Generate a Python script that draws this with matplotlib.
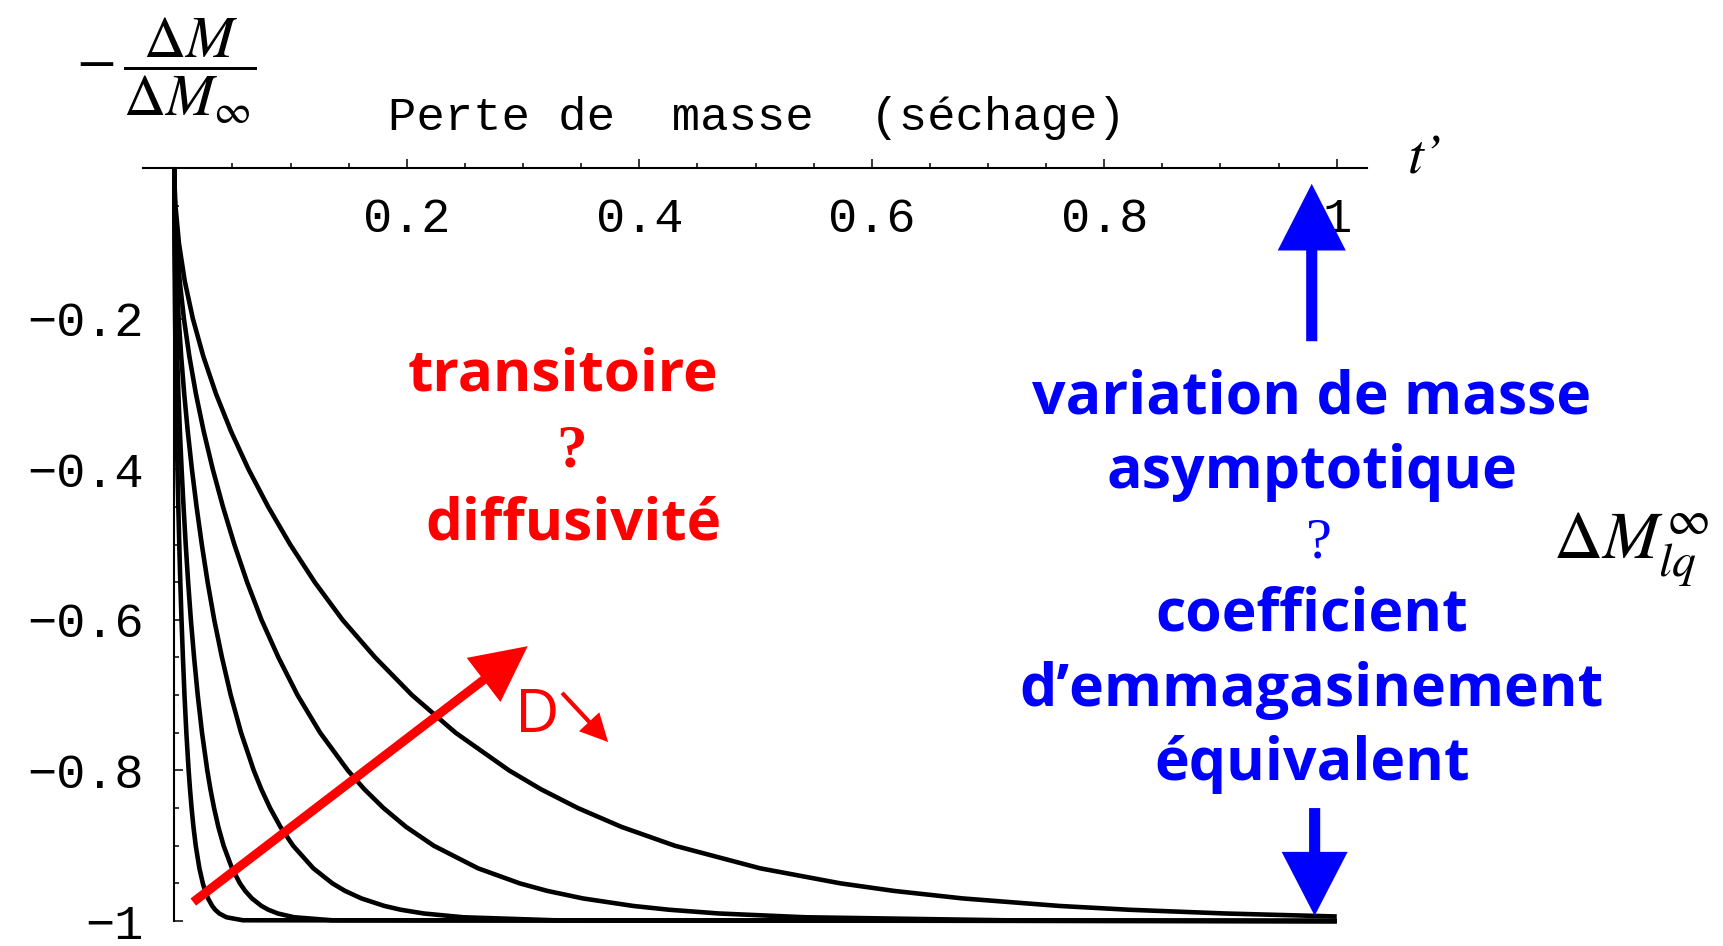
import matplotlib.pyplot as plt
from matplotlib.patches import FancyArrowPatch
from matplotlib.ticker import FixedLocator

# relative mass loss levels
levels = [0, 0.02, 0.05, 0.1, 0.15, 0.2, 0.25, 0.3, 0.35, 0.4, 0.45, 0.5,
          0.55, 0.6, 0.65, 0.7, 0.75, 0.8, 0.825, 0.85, 0.875, 0.9, 0.93,
          0.95, 0.96, 0.97, 0.98, 0.985, 0.99, 0.995, 0.999]

# t' at which each curve reaches the levels above (largest D first)
t_a = [0, 0.0000068, 0.0000426, 0.000171, 0.000384, 0.000683, 0.001068,
       0.001537, 0.002093, 0.002733, 0.00346, 0.00427, 0.00517, 0.0062,
       0.0074, 0.00876, 0.01037, 0.01233, 0.01351, 0.01487, 0.01647,
       0.01844, 0.02158, 0.02455, 0.02651, 0.02905, 0.03262, 0.03516,
       0.03873, 0.04484, 0.05902]
t_b = [0, 0.0000157, 0.000098, 0.000393, 0.000884, 0.00157, 0.002456,
       0.003535, 0.004814, 0.006285, 0.007958, 0.00982, 0.0119, 0.01425,
       0.01702, 0.02015, 0.02384, 0.02837, 0.03107, 0.0342, 0.03789,
       0.04242, 0.04964, 0.05646, 0.06098, 0.06681, 0.07503, 0.08086,
       0.08908, 0.1031, 0.1358]
t_c = [0, 0.0000378, 0.000236, 0.000947, 0.00213, 0.00378, 0.00592,
       0.00852, 0.0116, 0.01514, 0.01917, 0.02366, 0.02867, 0.03434,
       0.04101, 0.04854, 0.05745, 0.06835, 0.07487, 0.0824, 0.0913,
       0.1022, 0.1196, 0.1360, 0.1469, 0.161, 0.1808, 0.1948, 0.2147,
       0.2485, 0.3271]
t_d = [0, 0.0000826, 0.000516, 0.00207, 0.00465, 0.00826, 0.01293, 0.0186,
       0.02534, 0.03308, 0.04188, 0.05168, 0.06263, 0.075, 0.08958, 0.106,
       0.1255, 0.1493, 0.1635, 0.18, 0.1994, 0.2232, 0.2613, 0.2972,
       0.3209, 0.3516, 0.3949, 0.4256, 0.4688, 0.5428, 0.7145]
t_e = [0, 0.000159, 0.000995, 0.00399, 0.00897, 0.01594, 0.02493, 0.03589,
       0.04887, 0.06381, 0.08079, 0.0997, 0.1208, 0.1447, 0.1728, 0.2045,
       0.242, 0.288, 0.3154, 0.3472, 0.3847, 0.4306, 0.504, 0.5732,
       0.6191, 0.6783, 0.7617, 0.8209, 0.9044]
t_end = 1.0
m_end = [1.0, 1.0, 1.0, 1.0, 0.994]

xticks = [0.2, 0.4, 0.6, 0.8, 1.0]
xticklabels = ['0.2', '0.4', '0.6', '0.8', '1']
yticks = [-1.0, -0.8, -0.6, -0.4, -0.2]
yticklabels = ['\u22121', '\u22120.8', '\u22120.6', '\u22120.4', '\u22120.2']

red = '#ff0000'
blue = '#0000ff'
mono = ['Liberation Mono', 'DejaVu Sans Mono']
sans = ['Open Sans', 'DejaVu Sans']
plt.rcParams['mathtext.fontset'] = 'stix'

fig = plt.figure(figsize=(17.24, 9.46), dpi=100)
ax = fig.add_axes([0.0829, 0.0264, 0.7100, 0.7960])

for t, m_last in zip([t_a, t_b, t_c, t_d, t_e], m_end):
    xs = t + [t_end]
    ys = [-v for v in levels[:len(t)]] + [-m_last]
    ax.plot(xs, ys, color='black', lw=3.3, clip_on=False, zorder=3,
            solid_joinstyle='round', solid_capstyle='butt')

ax.set_xlim(-0.027, 1.026)
ax.set_ylim(-1.0, 0.0)

for s in ['bottom', 'right']:
    ax.spines[s].set_visible(False)
ax.spines['left'].set_position(('data', 0))
for s in ['left', 'top']:
    ax.spines[s].set_linewidth(1.5)

ax.xaxis.set_ticks_position('top')
ax.xaxis.set_major_locator(FixedLocator(xticks))
ax.xaxis.set_minor_locator(FixedLocator([0.05 * i for i in range(1, 21) if i % 4]))
ax.set_xticklabels(xticklabels, fontfamily=mono, fontsize=35)
ax.tick_params(axis='x', which='major', direction='out', length=6.5, width=1.1,
               labeltop=True, labelbottom=False, pad=-60)
ax.tick_params(axis='x', which='minor', direction='out', length=3.6, width=1.1)

ax.yaxis.set_ticks_position('left')
ax.yaxis.set_major_locator(FixedLocator(yticks))
ax.yaxis.set_minor_locator(FixedLocator([-0.05 * i for i in range(1, 20) if i % 4]))
ax.set_yticklabels(yticklabels, fontfamily=mono, fontsize=35)
ax.tick_params(axis='y', which='major', direction='in', length=6.5, width=1.1, pad=22)
ax.tick_params(axis='y', which='minor', direction='in', length=3.6, width=1.1)

# axis titles
fig.text(0.0965, 0.9250, r'$-\,\dfrac{\Delta M}{\Delta M_\infty}$', fontsize=42,
         ha='center', va='center')
fig.text(0.439, 0.8753, 'Perte de  masse  (séchage)', fontfamily=mono,
         fontsize=34, ha='center', va='center')
fig.text(0.827, 0.831, 't\u2019', fontfamily='STIXGeneral', style='italic',
         fontsize=41, ha='center', va='center')
fig.text(0.946, 0.419, r'$\Delta M_{lq}^{\infty}$', fontsize=49,
         ha='center', va='center')

# red annotations
ax.text(0.3345, -0.275, 'transitoire', color=red, fontfamily=sans,
        fontweight='bold', fontsize=42, ha='center', va='center')
ax.text(0.342, -0.376, '?', color=red, fontfamily='Liberation Serif',
        fontweight='bold', fontsize=44, ha='center', va='center')
ax.text(0.343, -0.474, 'diffusivité', color=red, fontfamily=sans,
        fontweight='bold', fontsize=42, ha='center', va='center')
ax.text(0.312, -0.728, 'D', color=red, fontfamily=sans, fontsize=44,
        ha='center', va='center')

ax.add_patch(FancyArrowPatch((0.0163, -0.9748), (0.304, -0.635),
                             arrowstyle='simple,head_length=40,head_width=40,tail_width=6.5',
                             mutation_scale=1, color=red, lw=0, shrinkA=0, shrinkB=0,
                             clip_on=False, zorder=5))
ax.add_patch(FancyArrowPatch((0.3336, -0.697), (0.3732, -0.7623),
                             arrowstyle='simple,head_length=20,head_width=20,tail_width=3',
                             mutation_scale=1, color=red, lw=0, shrinkA=0, shrinkB=0,
                             clip_on=False, zorder=5))

# blue annotations
blue_lines = ['variation de masse', 'asymptotique', None, 'coefficient',
              'd\u2019emmagasinement', 'équivalent']
blue_y = [-0.306, -0.405, -0.499, -0.594, -0.694, -0.792]
for txt, y in zip(blue_lines, blue_y):
    if txt is None:
        ax.text(0.9845, y, '?', color=blue, fontfamily='Liberation Serif',
                fontsize=42, ha='center', va='center')
    else:
        ax.text(0.9785, y, txt, color=blue, fontfamily=sans, fontweight='bold',
                fontsize=42.5, ha='center', va='center')

ax.add_patch(FancyArrowPatch((0.9785, -0.23), (0.9785, -0.021),
                             arrowstyle='simple,head_length=48,head_width=49,tail_width=8',
                             mutation_scale=1, color=blue, lw=0, shrinkA=0, shrinkB=0,
                             clip_on=False, zorder=5))
ax.add_patch(FancyArrowPatch((0.981, -0.85), (0.981, -0.993),
                             arrowstyle='simple,head_length=46,head_width=47.5,tail_width=8',
                             mutation_scale=1, color=blue, lw=0, shrinkA=0, shrinkB=0,
                             clip_on=False, zorder=5))

fig.savefig('out.png', dpi=100)
